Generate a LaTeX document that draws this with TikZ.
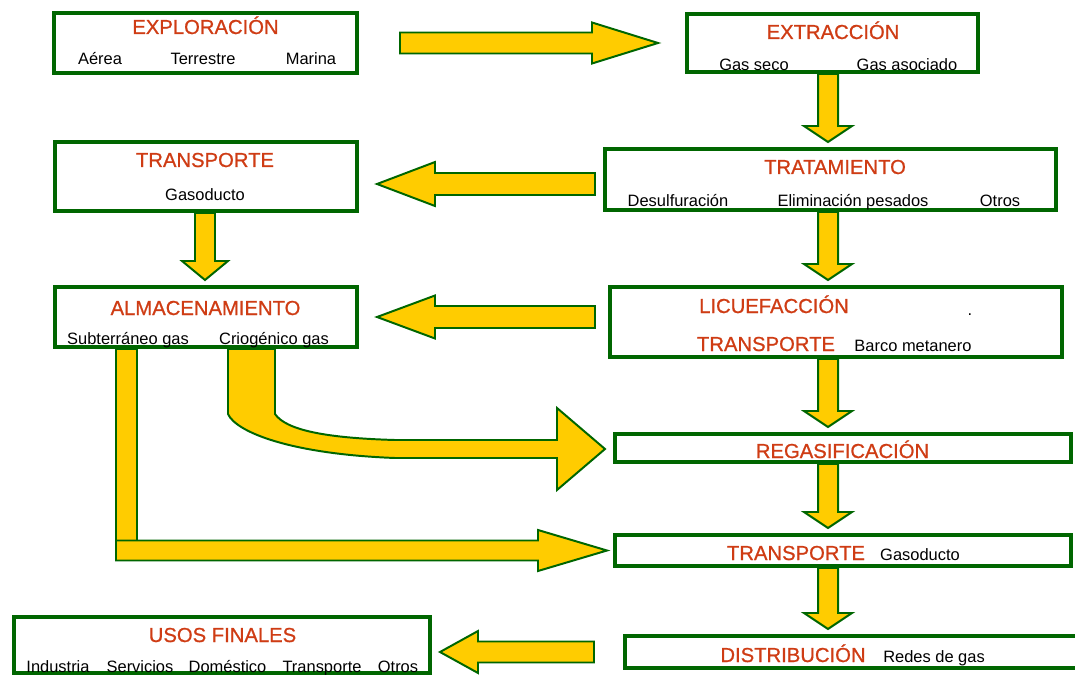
\documentclass[tikz,border=0pt]{standalone}
\usepackage{fontspec}
\setmainfont{Liberation Sans}
\newfontfamily\stagefont[FakeBold=0.8]{Liberation Sans}
\usetikzlibrary{calc}

\definecolor{boxgreen}{RGB}{0,102,0}
\definecolor{flowyellow}{RGB}{255,204,0}
\definecolor{titlered}{RGB}{207,60,20}

\newcommand{\px}{0.025cm}
% block arrow: start, tip, shaft half width, head half width, head length (px)
\newcommand{\flow}[5]{%
  \coordinate (fs) at (#1);
  \coordinate (ft) at (#2);
  \coordinate (fh) at ($(ft)!#5*\px!(fs)$);
  \draw[flowline] ($(fs)!#3*\px!90:(ft)$) -- ($(fh)!#3*\px!90:(ft)$)
    -- ($(fh)!#4*\px!90:(ft)$) -- (ft) -- ($(fh)!#4*\px!-90:(ft)$)
    -- ($(fh)!#3*\px!-90:(ft)$) -- ($(fs)!#3*\px!-90:(ft)$) -- cycle;}

\begin{document}
\begin{tikzpicture}[
  x=0.025cm,y=-0.025cm,
  stage/.style={draw=boxgreen,line width=2.85pt,fill=white,inner sep=0pt},
  stagetitle/.style={text=titlered,font=\stagefont\fontsize{14.4}{16}\selectfont,anchor=base,inner sep=0pt},
  stagenote/.style={font=\fontsize{11.7}{13}\selectfont,anchor=base,inner sep=0pt},
  flowline/.style={draw=boxgreen,fill=flowyellow,line width=1.4pt,line join=miter}
]
  \useasboundingbox (0,0) rectangle (1075,675);

  \node[stage,minimum width=303*\px,minimum height=60*\px] (exp) at (205.5,43) {};
  \node[stage,minimum width=291*\px,minimum height=58*\px] (ext) at (832.5,43) {};
  \node[stage,minimum width=451*\px,minimum height=61*\px] (tra) at (830.5,179.5) {};
  \node[stage,minimum width=302*\px,minimum height=69*\px] (trl) at (206,176.5) {};
  \node[stage,minimum width=302*\px,minimum height=60*\px] (alm) at (206,317) {};
  \node[stage,minimum width=452*\px,minimum height=70*\px] (liq) at (836,322) {};
  \node[stage,minimum width=456*\px,minimum height=28*\px] (reg) at (843,448) {};
  \node[stage,minimum width=456*\px,minimum height=31*\px] (trg) at (843,550.5) {};
  \node[stage,minimum width=468*\px,minimum height=32*\px] (dis) at (859,652) {};
  \node[stage,minimum width=416*\px,minimum height=56*\px] (uso) at (222,645) {};

  \coordinate (ax) at (828,0);
  \coordinate (bx) at (205,0);

  \flow{$(exp.east)+(41,0)$}{$(ext.west)+(-27,0)$}{10.5}{20.5}{66}
  \flow{ext.south -| ax}{$(tra.north -| ax)+(0,-5)$}{10}{24}{16}
  \flow{$(tra.west)+(-8,4.5)$}{$(trl.east)+(18,7.5)$}{11}{22}{58}
  \flow{tra.south -| ax}{$(liq.north -| ax)+(0,-5)$}{10}{24}{16}
  \flow{trl.south -| bx}{$(alm.north -| bx)+(0,-5)$}{10}{23}{19}
  \flow{$(liq.west)+(-13,-5)$}{$(alm.east)+(18,0)$}{11}{21.5}{58}
  \flow{liq.south -| ax}{$(reg.north -| ax)+(0,-5)$}{10}{24}{16}
  \flow{reg.south -| ax}{$(trg.north -| ax)+(0,-5)$}{10}{24}{16}
  \flow{trg.south -| ax}{$(dis.north -| ax)+(0,-5)$}{10}{24}{16}
  \flow{$(dis.west)+(-29,0)$}{$(uso.east)+(8,7)$}{10.5}{21}{38}

  % storage to regasification and to pipeline
  \coordinate (cs) at ($(alm.south west)+(175,0)$);
  \coordinate (ct) at ($(reg.west)+(-8,1)$);
  \draw[flowline] (cs) -- (228,414) .. controls (236,432) and (290,454) .. (395,458)
    -- (557,458) -- (557,490) -- (ct) -- (557,408) -- (557,440) -- (395,440)
    .. controls (325,438) and (286,430) .. (275,414) -- (275,349) -- cycle;
  \coordinate (ls) at ($(alm.south west)+(63,0)$);
  \draw[flowline] (ls) rectangle (137,541);
  \flow{116,550.5}{$(trg.west)+(-6,0)$}{10}{20.5}{69}

  \node[stagetitle] (expt) at (205.5,34) {EXPLORACIÓN};
  \node[stagenote] (exp1) at (100,65) {Aérea};
  \node[stagenote] (exp2) at (203,65) {Terrestre};
  \node[stagenote] (exp3) at (311,65) {Marina};

  \node[stagetitle] (extt) at (833,39) {EXTRACCIÓN};
  \node[stagenote] (ext1) at (754,71) {Gas seco};
  \node[stagenote] (ext2) at (907,71) {Gas asociado};

  \node[stagetitle] (trat) at (835,174) {TRATAMIENTO};
  \node[stagenote] (tra1) at (678,207) {Desulfuración};
  \node[stagenote] (tra2) at (853,207) {Eliminación pesados};
  \node[stagenote] (tra3) at (1000,207) {Otros};

  \node[stagetitle] (trlt) at (205,167) {TRANSPORTE};
  \node[stagenote] (trl1) at (205,200) {Gasoducto};

  \node[stagetitle] (almt) at (205.5,315) {ALMACENAMIENTO};
  \node[stagenote] (alm1) at (128,344) {Subterráneo gas};
  \node[stagenote] (alm2) at (274,344) {Criogénico gas};

  \node[stagetitle] (liqt) at (774,313) {LICUEFACCIÓN};
  \node[stagenote] (liqd) at (970,315) {.};
  \node[stagetitle] (liq2) at (766,351) {TRANSPORTE};
  \node[stagenote] (liq3) at (913,351) {Barco metanero};

  \node[stagetitle] (regt) at (842.5,458) {REGASIFICACIÓN};

  \node[stagetitle] (trgt) at (796,560) {TRANSPORTE};
  \node[stagenote] (trg1) at (920,560) {Gasoducto};

  \node[stagetitle] (dist) at (793,662) {DISTRIBUCIÓN};
  \node[stagenote] (dis1) at (934,662) {Redes de gas};

  \node[stagetitle] (usot) at (222.5,642) {USOS FINALES};
  \node[stagenote] (uso1) at (58,672) {Industria};
  \node[stagenote] (uso2) at (140,672) {Servicios};
  \node[stagenote] (uso3) at (227.5,672) {Doméstico};
  \node[stagenote] (uso4) at (322,672) {Transporte};
  \node[stagenote] (uso5) at (398,672) {Otros};
\end{tikzpicture}
\end{document}
